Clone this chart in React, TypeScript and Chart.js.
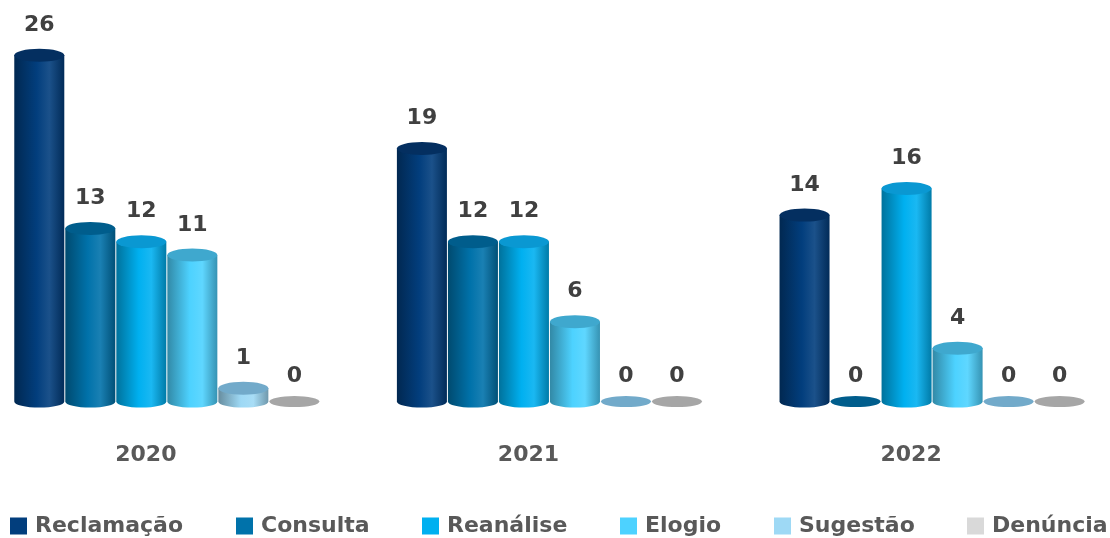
import React, { useEffect, useRef } from 'react';
import { Chart, registerables } from 'chart.js';
Chart.register(...registerables);

const categories = ['2020', '2021', '2022'];
const reclamacao = [26, 19, 14];
const consulta = [13, 12, 0];
const reanalise = [12, 12, 16];
const elogio = [11, 6, 4];
const sugestao = [1, 0, 0];
const denuncia = [0, 0, 0];
const seriesNames = ['Reclamação', 'Consulta', 'Reanálise', 'Elogio', 'Sugestão', 'Denúncia'];
const seriesValues = [reclamacao, consulta, reanalise, elogio, sugestao, denuncia];
const seriesColors = ['#023E7D', '#0072AA', '#00B0F0', '#4DD2FF', '#9ED9F5', '#D9D9D9'];
const capColors = ['#042F60', '#005D8C', '#0A98D2', '#3FA8CE', '#72AACA', '#A6A6A6'];

const FONT = '"DejaVu Sans", sans-serif';

function shade(hex: string, amt: number): string {
  const n = parseInt(hex.slice(1), 16);
  let r = (n >> 16) & 255, g = (n >> 8) & 255, b = n & 255;
  const f = (c: number) => {
    const v = amt < 0 ? c * (1 + amt) : c + (255 - c) * amt;
    return Math.max(0, Math.min(255, Math.round(v)));
  };
  r = f(r); g = f(g); b = f(b);
  return `rgb(${r},${g},${b})`;
}

const cylinderPlugin = {
  id: 'cylinders',
  beforeDatasetDraw() {
    return false;
  },
  afterDatasetsDraw(chart: any) {
    const ctx = chart.ctx as CanvasRenderingContext2D;
    const labels: { x: number; y: number; t: string }[] = [];
    chart.data.datasets.forEach((ds: any, di: number) => {
      const meta = chart.getDatasetMeta(di);
      if (meta.hidden) return;
      const col = seriesColors[di];
      meta.data.forEach((bar: any, i: number) => {
        const { x, y, base, width } = bar.getProps(['x', 'y', 'base', 'width'], true);
        const rx = width / 2 - 0.5;
        const ry = 6;
        const v = ds.data[i].y;
        ctx.save();
        if (v > 0) {
          const g = ctx.createLinearGradient(x - rx, 0, x + rx, 0);
          g.addColorStop(0, shade(col, -0.35));
          g.addColorStop(0.45, col);
          g.addColorStop(0.7, shade(col, 0.1));
          g.addColorStop(1, shade(col, -0.3));
          ctx.beginPath();
          ctx.moveTo(x - rx, y);
          ctx.lineTo(x - rx, base);
          ctx.ellipse(x, base, rx, ry, 0, Math.PI, 0, true);
          ctx.lineTo(x + rx, y);
          ctx.closePath();
          ctx.fillStyle = g;
          ctx.fill();
        }
        ctx.beginPath();
        ctx.ellipse(x, y, rx, v > 0 ? ry + 0.5 : ry - 0.5, 0, 0, Math.PI * 2);
        ctx.fillStyle = capColors[di];
        ctx.fill();
        ctx.restore();
        labels.push({ x, y: y - (v > 0 ? 30 : 25), t: String(v) });
      });
    });
    ctx.save();
    ctx.fillStyle = '#404040';
    ctx.font = `bold 22px ${FONT}`;
    ctx.textAlign = 'center';
    ctx.textBaseline = 'middle';
    labels.forEach((l) => ctx.fillText(l.t, l.x, l.y));
    ctx.restore();
  },
};

// Legend drawn from the chart's datasets, spread across the width like Excel's
const legendPlugin = {
  id: 'bottomLegend',
  afterDraw(chart: any) {
    const ctx = chart.ctx as CanvasRenderingContext2D;
    const box = 17, textGap = 8, left = 10, right = chart.width - 2;
    ctx.save();
    ctx.font = `bold 22px ${FONT}`;
    ctx.textBaseline = 'middle';
    ctx.textAlign = 'left';
    const items = chart.data.datasets.map((ds: any) => ({
      text: ds.label as string,
      color: ds.backgroundColor as string,
      w: box + textGap + ctx.measureText(ds.label).width,
    }));
    const sum = items.reduce((s: number, it: any) => s + it.w, 0);
    const itemGap = (right - left - sum) / (items.length - 1);
    let x = left;
    const cy = 526;
    items.forEach((it: any) => {
      ctx.fillStyle = it.color;
      ctx.fillRect(Math.round(x), cy - box / 2, box, box);
      ctx.fillStyle = '#595959';
      ctx.fillText(it.text, Math.round(x) + box + textGap, cy);
      x += it.w + itemGap;
    });
    ctx.restore();
  },
};

export default function App() {
  const ref = useRef<HTMLCanvasElement>(null);
  useEffect(() => {
    document.body.style.margin = '0';
    const chart = new Chart(ref.current!, {
      type: 'bar',
      data: {
        datasets: seriesNames.map((name, di) => ({
          label: name,
          data: categories.map((_, i) => ({ x: i, y: seriesValues[di][i] })),
          backgroundColor: seriesColors[di],
          borderWidth: 0,
          categoryPercentage: 0.8,
          barPercentage: 1,
        })),
      },
      options: {
        responsive: false,
        animation: false,
        layout: { padding: { top: 2, left: 0, right: 0, bottom: 30 } },
        plugins: {
          tooltip: { enabled: false },
          legend: { display: false },
        },
        scales: {
          x: {
            type: 'linear',
            offset: false,
            min: -0.436,
            max: 2.465,
            afterBuildTicks: (s: any) => {
              s.ticks = categories.map((_, i) => ({ value: i }));
            },
            ticks: {
              callback: (v: any) => categories[v as number] ?? '',
              labelOffset: -21,
              padding: 40,
              color: '#595959',
              font: { family: FONT, size: 22, weight: 'bold' },
              autoSkip: false,
              maxRotation: 0,
            },
            grid: { display: false, drawTicks: false },
            border: { display: false },
          },
          y: { display: false, min: 0, max: 30 },
        },
      },
      plugins: [cylinderPlugin, legendPlugin],
    } as any);
    return () => chart.destroy();
  }, []);
  return (
    <div style={{ width: 1110, height: 538 }}>
      <canvas ref={ref} width={1110} height={538} />
    </div>
  );
}
